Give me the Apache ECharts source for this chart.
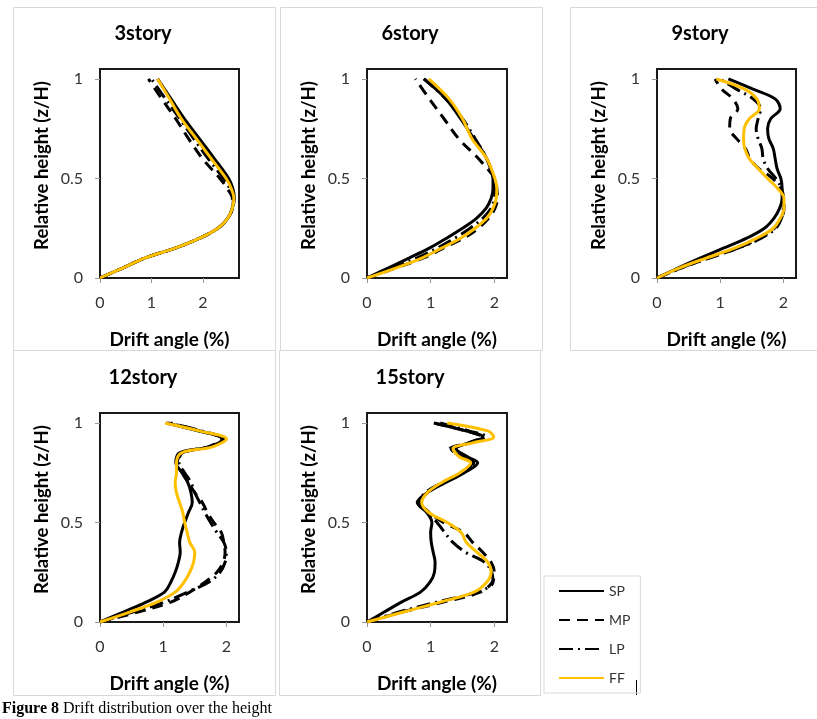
<!DOCTYPE html>
<html>
<head>
<meta charset="utf-8">
<script src="https://cdn.jsdelivr.net/npm/echarts@6/dist/echarts.min.js"></script>
<style>html,body{margin:0;padding:0;background:#fff;}#c{width:817px;height:719px;}</style>
</head>
<body>
<div id="c"></div>
<script>
// ---- data ----
const seriesNames = ['SP', 'MP', 'LP', 'FF'];
const panelTitles = ['3story', '6story', '9story', '12story', '15story'];
const yTickValues = [0, 0.5, 1];
const xTickValues = [0, 1, 2];

// 3 story
const h3  = [0, 0.05, 0.1, 0.15, 0.2, 0.25, 0.3, 0.35, 0.4, 0.45, 0.5, 0.6, 0.7, 0.8, 0.9, 1.0];
const sp3 = [0, 0.44, 0.87, 1.46, 1.94, 2.29, 2.48, 2.57, 2.61, 2.58, 2.50, 2.22, 1.93, 1.64, 1.38, 1.12];
const mp3 = [0, 0.44, 0.87, 1.46, 1.94, 2.29, 2.48, 2.57, 2.57, 2.47, 2.33, 1.99, 1.72, 1.47, 1.20, 0.94];
const lp3 = [0, 0.44, 0.87, 1.46, 1.94, 2.29, 2.48, 2.57, 2.59, 2.52, 2.40, 2.10, 1.82, 1.55, 1.27, 1.00];
const ff3 = [0, 0.44, 0.87, 1.46, 1.94, 2.29, 2.48, 2.57, 2.60, 2.55, 2.45, 2.16, 1.87, 1.58, 1.35, 1.12];

// 6 story
const h6  = [0, 0.05, 0.1, 0.15, 0.2, 0.25, 0.3, 0.35, 0.4, 0.45, 0.5, 0.6, 0.7, 0.8, 0.9, 1.0];
const sp6 = [0, 0.33, 0.66, 0.98, 1.25, 1.50, 1.72, 1.87, 1.95, 1.98, 1.98, 1.88, 1.68, 1.47, 1.24, 0.89];
const mp6 = [0, 0.45, 0.88, 1.20, 1.52, 1.75, 1.91, 2.01, 2.05, 2.04, 2.01, 1.75, 1.44, 1.21, 0.98, 0.76];
const lp6 = [0, 0.40, 0.78, 1.10, 1.38, 1.62, 1.82, 1.95, 2.00, 2.01, 1.99, 1.88, 1.70, 1.50, 1.24, 0.90];
const ff6 = [0, 0.45, 0.86, 1.17, 1.47, 1.70, 1.88, 1.98, 2.03, 2.04, 2.01, 1.88, 1.65, 1.50, 1.29, 0.97];

// 9 story
const h9  = [0, 0.05, 0.1, 0.15, 0.2, 0.25, 0.3, 0.35, 0.4, 0.45, 0.5, 0.55, 0.6, 0.65, 0.7, 0.75, 0.8, 0.85, 0.9, 0.95, 1.0];
const sp9 = [0, 0.33, 0.68, 1.05, 1.42, 1.70, 1.85, 1.94, 1.98, 1.98, 1.96, 1.90, 1.87, 1.84, 1.77, 1.75, 1.80, 1.95, 1.87, 1.51, 1.13];
const mp9 = [0, 0.38, 0.82, 1.28, 1.62, 1.86, 1.97, 2.01, 2.00, 1.95, 1.83, 1.61, 1.47, 1.40, 1.26, 1.15, 1.16, 1.28, 1.20, 1.02, 0.92];
const lp9 = [0, 0.38, 0.82, 1.28, 1.65, 1.88, 1.97, 2.00, 2.00, 1.97, 1.88, 1.75, 1.68, 1.66, 1.60, 1.57, 1.60, 1.64, 1.52, 1.25, 1.00];
const ff9 = [0, 0.35, 0.78, 1.23, 1.58, 1.84, 1.95, 2.01, 2.01, 1.91, 1.75, 1.60, 1.46, 1.39, 1.37, 1.38, 1.46, 1.62, 1.58, 1.38, 0.94];

// 12 story
const h12  = [0, 0.05, 0.1, 0.15, 0.2, 0.25, 0.3, 0.35, 0.4, 0.45, 0.5, 0.55, 0.6, 0.65, 0.7, 0.75, 0.8, 0.85, 0.88, 0.92, 0.96, 1.0];
const sp12 = [0, 0.37, 0.73, 1.02, 1.12, 1.19, 1.24, 1.27, 1.26, 1.29, 1.34, 1.40, 1.46, 1.44, 1.39, 1.30, 1.20, 1.26, 1.72, 1.96, 1.55, 1.05];
const mp12 = [0, 0.60, 1.12, 1.42, 1.66, 1.85, 1.95, 1.98, 1.96, 1.92, 1.80, 1.70, 1.62, 1.50, 1.40, 1.30, 1.22, 1.32, 1.72, 1.93, 1.58, 1.12];
const lp12 = [0, 0.52, 1.02, 1.38, 1.72, 1.90, 1.98, 2.00, 1.96, 1.85, 1.75, 1.66, 1.58, 1.50, 1.44, 1.34, 1.25, 1.30, 1.72, 1.95, 1.60, 1.08];
const ff12 = [0, 0.47, 0.90, 1.19, 1.33, 1.42, 1.48, 1.50, 1.42, 1.38, 1.34, 1.31, 1.26, 1.21, 1.19, 1.21, 1.21, 1.29, 1.78, 2.00, 1.57, 1.03];

// 15 story
const h15  = [0, 0.05, 0.1, 0.15, 0.2, 0.25, 0.3, 0.35, 0.4, 0.45, 0.5, 0.55, 0.6, 0.65, 0.7, 0.75, 0.8, 0.83, 0.87, 0.9, 0.93, 0.96, 1.0];
const sp15 = [0, 0.27, 0.54, 0.84, 0.99, 1.06, 1.07, 1.04, 1.01, 1.00, 1.02, 0.94, 0.79, 0.95, 1.23, 1.53, 1.74, 1.58, 1.40, 1.60, 1.82, 1.55, 1.05];
const mp15 = [0, 0.55, 1.20, 1.78, 1.97, 2.00, 1.95, 1.82, 1.66, 1.52, 1.20, 0.98, 0.84, 0.95, 1.20, 1.50, 1.65, 1.50, 1.30, 1.60, 1.80, 1.55, 1.05];
const lp15 = [0, 0.50, 1.10, 1.72, 1.98, 1.96, 1.85, 1.55, 1.35, 1.22, 1.10, 0.95, 0.83, 0.92, 1.18, 1.48, 1.68, 1.48, 1.32, 1.62, 1.88, 1.60, 1.15];
const ff15 = [0, 0.57, 1.15, 1.68, 1.88, 1.95, 1.90, 1.73, 1.56, 1.48, 1.26, 0.97, 0.86, 0.95, 1.17, 1.46, 1.63, 1.45, 1.35, 1.66, 1.99, 1.90, 1.26];

const xMaxes = [2.7, 2.2, 2.2, 2.2, 2.2];
const panelData = [
  [h3, [sp3, mp3, lp3, ff3]],
  [h6, [sp6, mp6, lp6, ff6]],
  [h9, [sp9, mp9, lp9, ff9]],
  [h12, [sp12, mp12, lp12, ff12]],
  [h15, [sp15, mp15, lp15, ff15]]
];

// ---- layout / style ----
const grids = [
  {left: 100, top: 69, width: 139, height: 209},
  {left: 367, top: 69, width: 140, height: 209},
  {left: 657, top: 69, width: 139, height: 209},
  {left: 100, top: 413, width: 139, height: 209},
  {left: 367, top: 413, width: 140, height: 209}
];
const FONT = 'Lato';
const lineStyles = [
  {color: '#000', width: 3, type: 'solid'},
  {color: '#000', width: 3, type: [11, 7]},
  {color: '#000', width: 3, type: [14, 5, 2, 5]},
  {color: '#FFC000', width: 3, type: 'solid'}
];

const option = {
  animation: false,
  backgroundColor: '#fff',
  textStyle: {fontFamily: FONT},
  grid: grids.map(g => Object.assign({show: true, borderColor: '#1a1a1a', borderWidth: 2, containLabel: false}, g)),
  xAxis: grids.map((g, i) => ({
    gridIndex: i, type: 'value', min: 0, max: xMaxes[i],
    axisLine: {show: false},
    axisTick: {show: true, length: 5, lineStyle: {color: '#999'}, customValues: xTickValues},
    axisLabel: {customValues: xTickValues, margin: 17, fontSize: 16, color: '#333', fontFamily: FONT},
    splitLine: {show: false},
    name: 'Drift angle (%)', nameLocation: 'middle', nameGap: 52,
    nameTextStyle: {fontWeight: 'bold', fontSize: 19, color: '#000', fontFamily: FONT}
  })),
  yAxis: grids.map((g, i) => ({
    gridIndex: i, type: 'value', min: 0, max: 1.05,
    axisLine: {show: false},
    axisTick: {show: true, length: 5, lineStyle: {color: '#999'}, customValues: yTickValues},
    axisLabel: {customValues: yTickValues, margin: 17, fontSize: 16, color: '#333', fontFamily: FONT},
    splitLine: {show: false},
    name: 'Relative height (z/H)', nameLocation: 'middle', nameGap: 48,
    nameTextStyle: {fontWeight: 'bold', fontSize: 18.5, color: '#000', fontFamily: FONT, padding: [0, 0, 0, 16]}
  })),
  legend: {
    data: seriesNames, orient: 'vertical', left: 544, top: 576,
    padding: [8, 10, 8, 14], itemWidth: 45, itemHeight: 14, itemGap: 15,
    borderColor: '#d9d9d9', borderWidth: 1,
    itemStyle: {opacity: 0},
    textStyle: {fontSize: 14, color: '#333', fontFamily: FONT}
  },
  series: [],
  graphic: []
};

panelData.forEach((p, i) => {
  const hs = p[0];
  p[1].forEach((vals, k) => {
    option.series.push({
      name: seriesNames[k], type: 'line', xAxisIndex: i, yAxisIndex: i,
      data: vals.map((v, j) => [v, hs[j]]),
      showSymbol: false, symbol: 'none', smooth: 0.35,
      lineStyle: lineStyles[k], itemStyle: {color: lineStyles[k].color},
      z: 2 + k
    });
  });
});

// panel frames
const frames = [
  [13, 7, 262, 343], [280, 7, 262, 343], [570, 7, 260, 343],
  [13, 350, 262, 345], [279, 350, 261, 345]
];
frames.forEach(f => option.graphic.push({
  type: 'rect', silent: true, z: -1,
  shape: {x: f[0] + 0.5, y: f[1] + 0.5, width: f[2], height: f[3]},
  style: {fill: 'none', stroke: '#d9d9d9', lineWidth: 1}
}));
// panel titles
const titlePos = [[143, 34], [410, 34], [700, 34], [143, 378], [410, 378]];
panelTitles.forEach((t, i) => option.graphic.push({
  type: 'text', x: titlePos[i][0], y: titlePos[i][1],
  style: {text: t, fill: '#000', font: 'bold 20px ' + FONT, textAlign: 'center', textVerticalAlign: 'middle'}
}));
// caption
option.graphic.push({
  type: 'text', x: 2, y: 709,
  style: {
    text: '{b|Figure 8} Drift distribution over the height',
    textVerticalAlign: 'middle', fill: '#000',
    font: '16px "Liberation Serif"',
    rich: {b: {fontWeight: 'bold', fontFamily: 'Liberation Serif', fontSize: 16}}
  }
});
// small mark next to legend
option.graphic.push({
  type: 'line', shape: {x1: 636.5, y1: 680, x2: 636.5, y2: 695},
  style: {stroke: '#000', lineWidth: 1}
});

const chart = echarts.init(document.getElementById('c'), null, {renderer: 'canvas'});
chart.setOption(option);
</script>
</body>
</html>
